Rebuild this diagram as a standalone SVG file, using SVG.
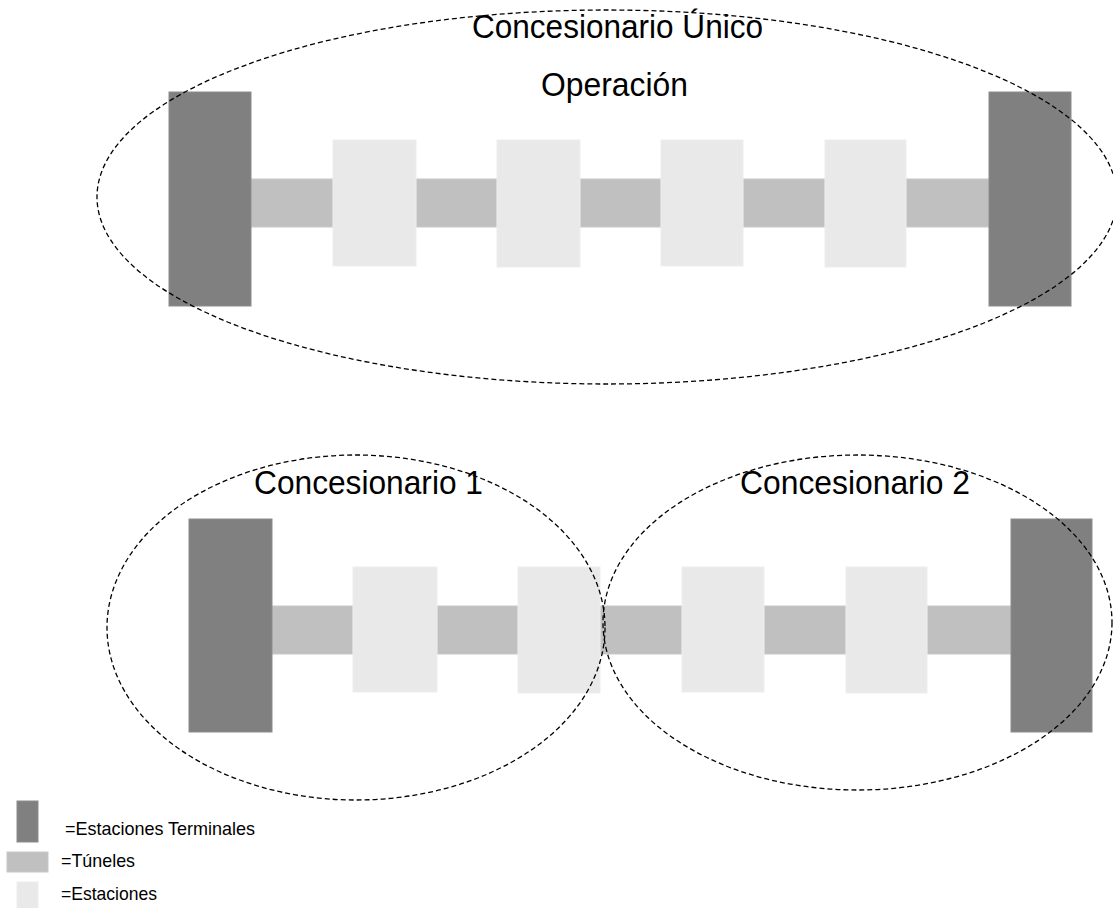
<svg xmlns="http://www.w3.org/2000/svg" width="1113" height="908" viewBox="0 0 1113 908">
<style>
.term{fill:#808080;stroke:#8c8c8c;stroke-width:1}
.tun{fill:#c0c0c0;stroke:#c8c8c8;stroke-width:1}
.sta{fill:#e9e9e9;stroke:#ededed;stroke-width:1}
.zone{fill:none;stroke:#000;stroke-width:1.3;stroke-dasharray:5 3}
.big{font-family:"Liberation Sans",Arial,sans-serif;font-size:33.5px;fill:#000}
.leg{font-family:"Liberation Sans",Arial,sans-serif;font-size:18.5px;fill:#000}
</style>
<rect width="1113" height="908" fill="#fff"/>
<g id="connectors">
<rect class="tun" x="251" y="179" width="82" height="48"/>
<rect class="tun" x="416" y="179" width="81" height="48"/>
<rect class="tun" x="580" y="179" width="81" height="48"/>
<rect class="tun" x="743" y="179" width="82" height="48"/>
<rect class="tun" x="906" y="179" width="83" height="48"/>
<rect class="tun" x="272" y="606" width="81" height="48"/>
<rect class="tun" x="437" y="606" width="81" height="48"/>
<rect class="tun" x="600" y="606" width="82" height="48"/>
<rect class="tun" x="764" y="606" width="82" height="48"/>
<rect class="tun" x="927" y="606" width="84" height="48"/>
</g>
<g id="top-terminal-left"><rect class="term" x="169" y="92" width="82" height="214"/></g>
<g id="top-station-1"><rect class="sta" x="333" y="140" width="83" height="126"/></g>
<g id="top-station-2"><rect class="sta" x="497" y="140" width="83" height="127"/></g>
<g id="top-station-3"><rect class="sta" x="661" y="140" width="82" height="126"/></g>
<g id="top-station-4"><rect class="sta" x="825" y="140" width="81" height="127"/></g>
<g id="top-terminal-right"><rect class="term" x="989" y="92" width="82" height="214"/></g>
<g id="bot-terminal-left"><rect class="term" x="189" y="519" width="83" height="213"/></g>
<g id="bot-station-1"><rect class="sta" x="353" y="567" width="84" height="125"/></g>
<g id="bot-station-2"><rect class="sta" x="518" y="567" width="82" height="126"/></g>
<g id="bot-station-3"><rect class="sta" x="682" y="567" width="82" height="125"/></g>
<g id="bot-station-4"><rect class="sta" x="846" y="567" width="81" height="126"/></g>
<g id="bot-terminal-right"><rect class="term" x="1011" y="519" width="81" height="213"/></g>
<g id="zone-unico">
<ellipse class="zone" cx="607" cy="197" rx="510" ry="187"/>
<text class="big" x="472" y="38" textLength="291" lengthAdjust="spacingAndGlyphs">Concesionario Único</text>
<text class="big" x="541" y="96" textLength="147" lengthAdjust="spacingAndGlyphs">Operación</text>
</g>
<g id="zone-1">
<ellipse class="zone" cx="356" cy="627.5" rx="249" ry="172.5"/>
<text class="big" x="254" y="494" textLength="229" lengthAdjust="spacingAndGlyphs">Concesionario 1</text>
</g>
<g id="zone-2">
<ellipse class="zone" cx="857.5" cy="622.5" rx="254.5" ry="167.5"/>
<text class="big" x="740" y="494" textLength="230" lengthAdjust="spacingAndGlyphs">Concesionario 2</text>
</g>
<g id="legend">
<rect class="term" x="17" y="801" width="21" height="41"/>
<text class="leg" x="65" y="835" textLength="190" lengthAdjust="spacingAndGlyphs">=Estaciones Terminales</text>
<rect class="tun" x="7" y="852" width="41" height="20"/>
<text class="leg" x="61" y="867" textLength="74" lengthAdjust="spacingAndGlyphs">=Túneles</text>
<rect class="sta" x="17" y="882" width="21" height="30"/>
<text class="leg" x="61" y="900" textLength="96" lengthAdjust="spacingAndGlyphs">=Estaciones</text>
</g>
</svg>
